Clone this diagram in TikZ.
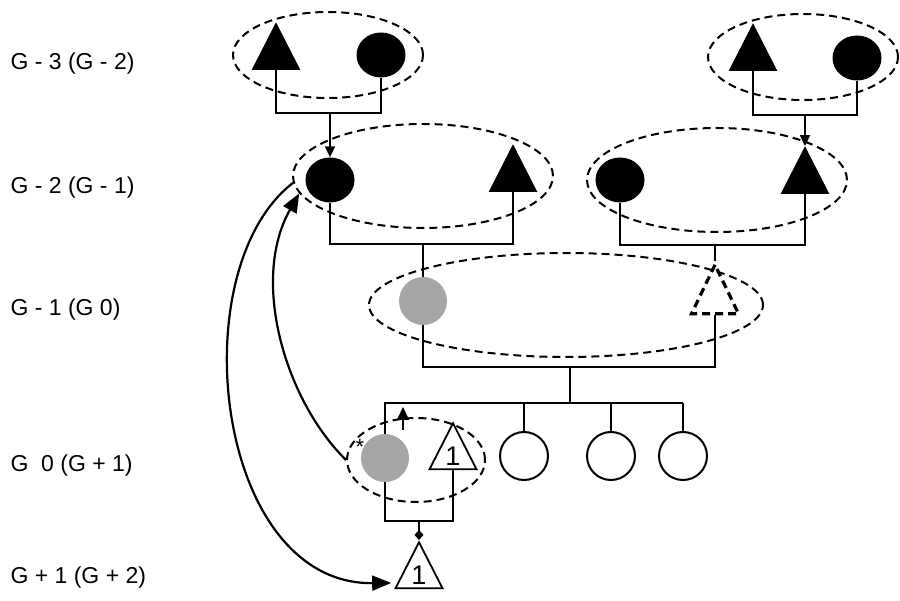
\documentclass[tikz,border=0pt]{standalone}
\usepackage{fontspec}
\setmainfont{Liberation Sans}
\usetikzlibrary{arrows.meta,shapes.geometric,backgrounds}
\definecolor{pedGrey}{HTML}{A6A6A6}
\tikzset{
  >={Triangle[length=11pt,width=10pt]},
  tri/.style={isosceles triangle, isosceles triangle stretches, shape border rotate=90,
              minimum width=47pt, minimum height=46pt, inner sep=0pt, draw, fill=black, line width=1pt},
  trione/.style={tri, fill=white, line width=1.8pt, font=\fontsize{27}{27}\selectfont},
  tridash/.style={tri, fill=none, minimum width=47pt, minimum height=49pt, line width=3.2pt,
              dash pattern=on 8pt off 5pt},
  dot/.style={ellipse, minimum width=49pt, minimum height=45pt, inner sep=0pt, fill=black},
  ring/.style={circle, minimum size=48pt, inner sep=0pt, draw, line width=2pt, fill=white},
  gdot/.style={circle, minimum size=48pt, inner sep=0pt, fill=pedGrey},
  grp/.style={ellipse, draw, inner sep=0pt, line width=2pt, dash pattern=on 8pt off 5pt},
  link/.style={draw, line width=1.8pt},
  flow/.style={->, draw, line width=1.8pt},
  jump/.style={-{Triangle[length=19pt,width=15pt]}, draw, line width=2.2pt},
  lbl/.style={anchor=west, font=\fontsize{23}{27}\selectfont},
}

\begin{document}
\begin{tikzpicture}[x=1pt,y=-1pt]
  \useasboundingbox (0,0) rectangle (900,601);
  % generation labels
  \node[lbl] (lA) at (7,64) {G - 3 (G - 2)};
  \node[lbl] (lB) at (7,188) {G - 2 (G - 1)};
  \node[lbl] (lC) at (7,310) {G - 1 (G 0)};
  \node[lbl] (lD) at (7,466) {G\ \ 0 (G + 1)};
  \node[lbl] (lE) at (7,578) {G + 1 (G + 2)};
  % G-3
  \node[grp,minimum width=190pt,minimum height=86pt] (gA1) at (328,55) {};
  \node[tri] (tA1) at (276,55) {};
  \node[dot] (cA1) at (381,55) {};
  \node[grp,minimum width=190pt,minimum height=86pt] (gA2) at (803,57) {};
  \node[tri] (tA2) at (753,56) {};
  \node[dot] (cA2) at (857,58) {};
  % G-2
  \node[grp,minimum width=260pt,minimum height=104pt] (gB1) at (423,176) {};
  \node[dot] (cB1) at (330,180) {};
  \node[tri] (tB1) at (513,177) {};
  \node[grp,minimum width=260pt,minimum height=104pt] (gB2) at (717,180) {};
  \node[dot] (cB2) at (620,180) {};
  \node[tri] (tB2) at (805,179) {};
  % G-1
  \node[grp,minimum width=394pt,minimum height=104pt] (gC) at (566,305) {};
  \node[gdot] (cC) at (423,301) {};
  \node[tridash] (tC) at (715,299) {};
  % G0
  \node[grp,minimum width=138pt,minimum height=84pt] (gD) at (416,460) {};
  \node[gdot] (cD) at (385,458) {};
  \node[trione] (tD) at (453,456) {1};
  \node[ring] (r1) at (524,456) {};
  \node[ring] (r2) at (611,456) {};
  \node[ring] (r3) at (683,456) {};
  \node[font=\fontsize{22}{22}\selectfont] (ast) at (360,447) {*};
  % G+1
  \node[trione] (tE) at (419,575) {1};

  \begin{scope}[on background layer]
    \coordinate (jA1) at (cB1 |- 0,113);
    \draw[link] (tA1.south) |- (jA1) -| (cA1.south);
    \draw[flow] (jA1) -- (cB1.north);
    \coordinate (jA2) at (tB2 |- 0,115);
    \draw[link] (tA2.south) |- (jA2) -| (cA2.south);
    \draw[flow] (jA2) -- (tB2.apex);
    \coordinate (jB1) at (cC |- 0,244);
    \draw[link] (cB1.south) |- (jB1) -| (tB1.south);
    \draw[link] (jB1) -- (cC.north);
    \coordinate (jB2) at (tC |- 0,245);
    \draw[link] (cB2.south) |- (jB2) -| (tB2.south);
    \draw[link] (jB2) -- (tC.apex);
    \coordinate (jC) at (570,367);
    \coordinate (bD) at (570,403);
    \draw[link] (cC.south) |- (jC) -| (tC.south);
    \draw[link] (jC) -- (bD);
    \foreach \r in {r1,r2,r3}{\draw[link] (\r |- bD) -- (\r.north);}
    \coordinate (jD) at (tE |- 0,521);
    \draw[link] (r3 |- bD) -- (cD |- bD) |- (jD) -| (tD.south);
    \draw[link,-{Diamond[length=10pt,width=9pt]}] (jD) -- (tE.apex);
  \end{scope}
  \draw[flow,-{Triangle[length=13pt,width=12pt]}] ([xshift=18pt,yshift=4pt]cD.north)
        -- ([xshift=18pt,yshift=-4pt]cD.north |- bD);
  % jumps between generations
  \draw[jump] (gD.west) .. controls (285,400) and (250,280) .. (gB1.188);
  \draw[jump] (gB1.183) .. controls (180,270) and (215,585) .. ([xshift=-6pt]tE.200);
\end{tikzpicture}
\end{document}
